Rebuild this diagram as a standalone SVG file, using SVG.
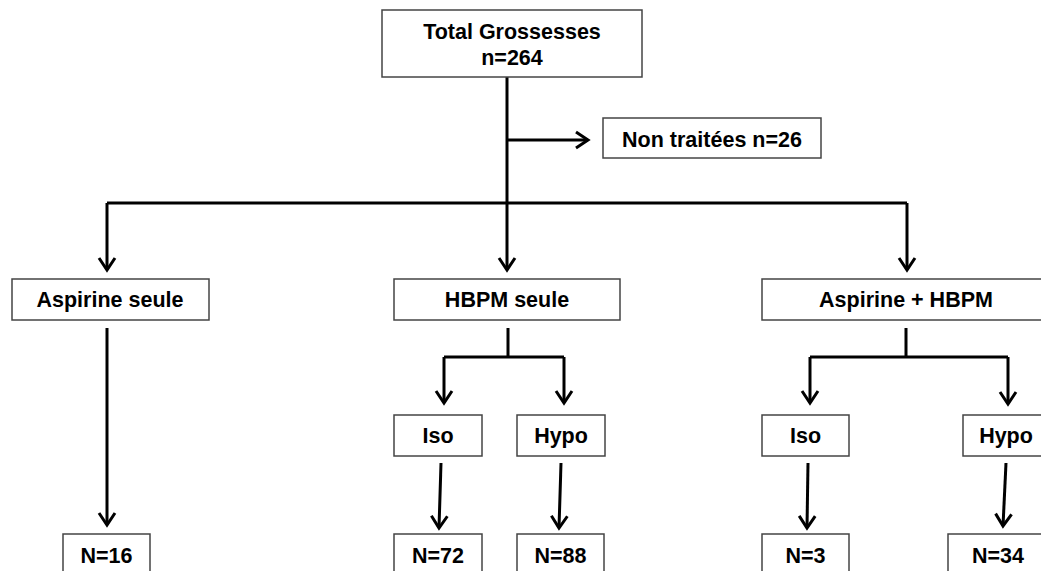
<svg xmlns="http://www.w3.org/2000/svg" width="1041" height="571" viewBox="0 0 1041 571">
  <defs>
    <marker id="arr" viewBox="-16 -10 20 20" markerWidth="20" markerHeight="20" refX="0" refY="0" orient="auto" markerUnits="userSpaceOnUse">
      <path d="M-12,-8 L0,0 L-12,8" fill="none" stroke="#000" stroke-width="3"/>
    </marker>
    <style>
      .box { fill: #fff; stroke: #444; stroke-width: 1.5; }
      .t { font-family: "Liberation Sans", Arial, sans-serif; font-weight: bold; font-size: 21.5px; fill: #000; text-anchor: middle; }
      .c { fill: none; stroke: #000; stroke-width: 3; }
      .a { marker-end: url(#arr); }
    </style>
  </defs>
  <rect width="1041" height="571" fill="#fff"/>

  <g id="connectors">
    <path class="c a" d="M507,77 L507,270"/>
    <path class="c a" d="M507,140 L588,140"/>
    <path class="c" d="M107,203 L907,203"/>
    <path class="c a" d="M107,203 L107,270"/>
    <path class="c a" d="M907,203 L907,270"/>
    <path class="c a" d="M107,328 L107,525"/>
    <path class="c" d="M508,328 L508,357 M444,357 L564,357"/>
    <path class="c a" d="M444,357 L444,403"/>
    <path class="c a" d="M564,357 L564,403"/>
    <path class="c a" d="M441,463 L439,528"/>
    <path class="c a" d="M561,463 L559,528"/>
    <path class="c" d="M906,328 L906,357 M810,357 L1008,357"/>
    <path class="c a" d="M810,357 L810,403"/>
    <path class="c a" d="M1008,357 L1008,404"/>
    <path class="c a" d="M808,463 L807,528"/>
    <path class="c a" d="M1006,463 L1003,526"/>
  </g>

  <g id="total">
    <rect class="box" x="382" y="10" width="260" height="67"/>
    <text class="t" x="512" y="39">Total Grossesses</text>
    <text class="t" x="512" y="65">n=264</text>
  </g>
  <g id="nontraitees">
    <rect class="box" x="603" y="118" width="218" height="40"/>
    <text class="t" x="712" y="147">Non traitées n=26</text>
  </g>
  <g id="aspirine">
    <rect class="box" x="12" y="279" width="197" height="41"/>
    <text class="t" x="110" y="307">Aspirine seule</text>
  </g>
  <g id="hbpm">
    <rect class="box" x="394" y="279" width="226" height="41"/>
    <text class="t" x="507" y="307">HBPM seule</text>
  </g>
  <g id="asphbpm">
    <rect class="box" x="762" y="279" width="290" height="41"/>
    <text class="t" x="906" y="307">Aspirine + HBPM</text>
  </g>
  <g id="iso1">
    <rect class="box" x="394" y="415" width="88" height="41"/>
    <text class="t" x="438" y="443">Iso</text>
  </g>
  <g id="hypo1">
    <rect class="box" x="517" y="415" width="88" height="41"/>
    <text class="t" x="561" y="443">Hypo</text>
  </g>
  <g id="iso2">
    <rect class="box" x="762" y="415" width="87" height="41"/>
    <text class="t" x="805.5" y="443">Iso</text>
  </g>
  <g id="hypo2">
    <rect class="box" x="963" y="415" width="90" height="41"/>
    <text class="t" x="1006" y="443">Hypo</text>
  </g>
  <g id="n16">
    <rect class="box" x="63" y="534" width="87" height="50"/>
    <text class="t" x="106.5" y="563">N=16</text>
  </g>
  <g id="n72">
    <rect class="box" x="394" y="534" width="88" height="50"/>
    <text class="t" x="438" y="563">N=72</text>
  </g>
  <g id="n88">
    <rect class="box" x="517" y="534" width="87" height="50"/>
    <text class="t" x="560.5" y="563">N=88</text>
  </g>
  <g id="n3">
    <rect class="box" x="762" y="534" width="87" height="50"/>
    <text class="t" x="805.5" y="563">N=3</text>
  </g>
  <g id="n34">
    <rect class="box" x="948" y="534" width="102" height="50"/>
    <text class="t" x="998" y="563">N=34</text>
  </g>
</svg>
